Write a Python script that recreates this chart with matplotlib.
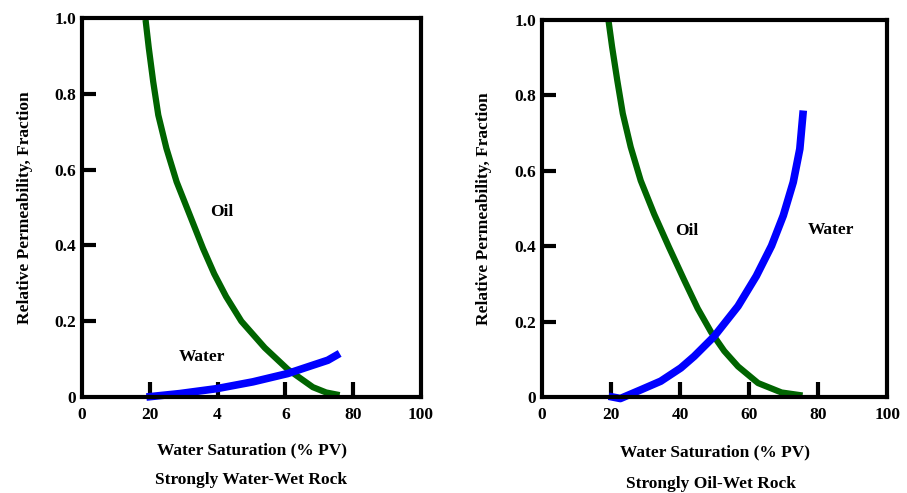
import numpy as np
import matplotlib
matplotlib.use('Agg')
import matplotlib.pyplot as plt

# strongly water-wet rock (left)
ww_oil_sw = [18.75, 19.7, 21.0, 22.5, 24.9, 27.9, 31.8, 35.7, 39.0, 42.5, 47.0, 53.9, 60.7, 68.1, 72.0, 76.0]
ww_oil_kr = [0.995, 0.921, 0.832, 0.744, 0.656, 0.568, 0.480, 0.392, 0.325, 0.265, 0.200, 0.130, 0.073, 0.026, 0.012, 0.005]
ww_wat_sw = [19.0, 28.8, 39.7, 50.4, 60.7, 68.1, 72.5, 76.0]
ww_wat_kr = [0.0, 0.009, 0.022, 0.040, 0.062, 0.084, 0.097, 0.115]

# strongly oil-wet rock (right)
ow_oil_sw = [19.3, 20.3, 21.8, 23.4, 25.7, 28.6, 32.5, 36.8, 41.2, 45.1, 49.0, 52.8, 56.8, 62.6, 69.4, 75.5]
ow_oil_kr = [0.996, 0.929, 0.840, 0.752, 0.663, 0.574, 0.485, 0.397, 0.310, 0.235, 0.172, 0.122, 0.081, 0.037, 0.012, 0.004]
ow_wat_sw = [19.3, 22.7, 28.6, 34.4, 40.2, 44.1, 49.9, 56.8, 62.1, 66.5, 69.9, 72.8, 74.7, 75.7]
ow_wat_kr = [0.002, -0.004, 0.019, 0.042, 0.077, 0.108, 0.161, 0.241, 0.321, 0.401, 0.481, 0.570, 0.658, 0.760]

xticks = [0, 20, 40, 60, 80, 100]
left_xlabels = ['0', '20', '4', '6', '80', '100']
right_xlabels = ['0', '20', '40', '60', '80', '100']
yticks = [0, 0.2, 0.4, 0.6, 0.8, 1.0]
ylabels = ['0', '0.2', '0.4', '0.6', '0.8', '1.0']

plt.rcParams['font.family'] = ['Liberation Serif', 'DejaVu Serif']
plt.rcParams['font.weight'] = 'bold'

green = '#006400'
blue = '#0000ff'
fs = 12.5

fig = plt.figure(figsize=(9.07, 4.93), dpi=100)
ax1 = fig.add_axes([0.0904, 0.1947, 0.3738, 0.7688])
ax2 = fig.add_axes([0.5976, 0.1947, 0.3805, 0.7647])


def style(ax, xlab):
    ax.set_xlim(0, 100)
    ax.set_ylim(0, 1.0)
    for s in ax.spines.values():
        s.set_linewidth(3)
    ax.set_xticks(xticks)
    ax.set_xticklabels(xlab, fontsize=fs, fontweight='bold')
    ax.set_yticks(yticks)
    ax.set_yticklabels(ylabels, fontsize=fs, fontweight='bold')
    ax.tick_params(axis='x', direction='in', length=11, width=3, pad=7)
    ax.tick_params(axis='y', direction='in', length=10, width=3, pad=4)
    # no tick marks at the corners
    for t in [ax.xaxis.get_major_ticks()[0], ax.xaxis.get_major_ticks()[-1],
              ax.yaxis.get_major_ticks()[0], ax.yaxis.get_major_ticks()[-1]]:
        t.tick1line.set_visible(False)
    ax.set_ylabel('Relative Permeability, Fraction', fontsize=fs, fontweight='bold')
    ax.yaxis.set_label_coords(-0.145, 0.5)


style(ax1, left_xlabels)
style(ax2, right_xlabels)

ax1.plot(ww_oil_sw, ww_oil_kr, color=green, lw=4.5, solid_capstyle='butt', solid_joinstyle='round', clip_on=False)
ax1.plot(ww_wat_sw, ww_wat_kr, color=blue, lw=5.5, solid_capstyle='butt', solid_joinstyle='round', clip_on=False)
ax1.text(41.3, 0.488, 'Oil', fontsize=fs, fontweight='bold', ha='center', va='center')
ax1.text(35.4, 0.106, 'Water', fontsize=fs, fontweight='bold', ha='center', va='center')
ax1.text(0.5, -0.14, 'Water Saturation (% PV)', transform=ax1.transAxes,
         fontsize=fs, fontweight='bold', ha='center', va='center')
ax1.text(0.5, -0.22, 'Strongly Water-Wet Rock', transform=ax1.transAxes,
         fontsize=fs, fontweight='bold', ha='center', va='center')

ax2.plot(ow_oil_sw, ow_oil_kr, color=green, lw=4.5, solid_capstyle='butt', solid_joinstyle='round', clip_on=False)
ax2.plot(ow_wat_sw, ow_wat_kr, color=blue, lw=5.5, solid_capstyle='butt', solid_joinstyle='round', clip_on=False)
ax2.text(41.9, 0.44, 'Oil', fontsize=fs, fontweight='bold', ha='center', va='center')
ax2.text(83.7, 0.442, 'Water', fontsize=fs, fontweight='bold', ha='center', va='center')
ax2.text(0.5, -0.148, 'Water Saturation (% PV)', transform=ax2.transAxes,
         fontsize=fs, fontweight='bold', ha='center', va='center')
ax2.text(0.49, -0.232, 'Strongly Oil-Wet Rock', transform=ax2.transAxes,
         fontsize=fs, fontweight='bold', ha='center', va='center')

fig.savefig('out.png', dpi=100)
